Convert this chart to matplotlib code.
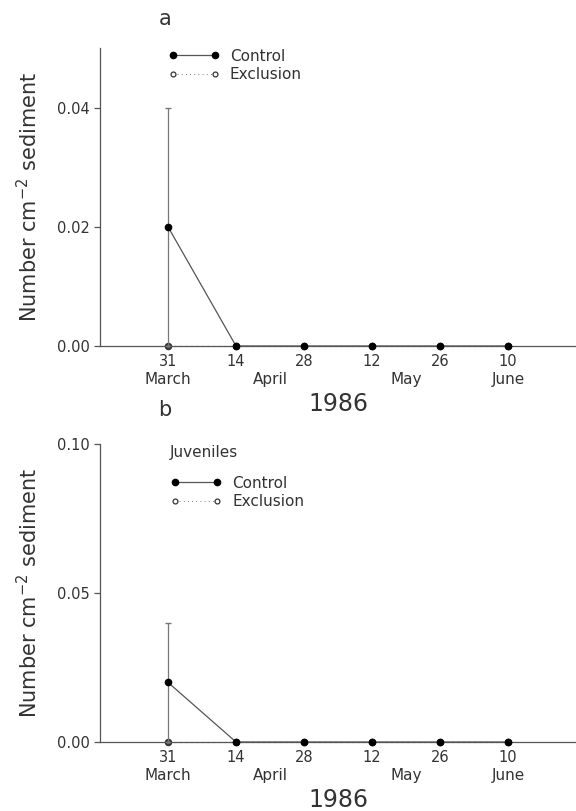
import matplotlib
matplotlib.use("Agg")
import matplotlib.pyplot as plt
from matplotlib.lines import Line2D

# ---------- DATA ----------
# sampling dates as days after 31 March 1986
days = [0, 14, 28, 42, 56, 70]
day_labels = ["31", "14", "28", "12", "26", "10"]
month_days = [0, 21, 49, 70]
month_labels = ["March", "April", "May", "June"]

# panel a (all stages)
control_a = [0.02, 0.0, 0.0, 0.0, 0.0, 0.0]
control_a_err = [0.02, 0.0, 0.0, 0.0, 0.0, 0.0]
exclusion_a = [0.0, 0.0, 0.0, 0.0, 0.0, 0.0]

# panel b (juveniles)
control_b = [0.02, 0.0, 0.0, 0.0, 0.0, 0.0]
control_b_err = [0.02, 0.0, 0.0, 0.0, 0.0, 0.0]
exclusion_b = [0.0, 0.0, 0.0, 0.0, 0.0, 0.0]

INK = "#333333"
LINE = "#555555"

fig = plt.figure(figsize=(5.76, 8.11), dpi=100)
ax_a = fig.add_axes([0.1736, 0.5734, 0.8264, 0.3674])
ax_b = fig.add_axes([0.1736, 0.0851, 0.8264, 0.3674])


def draw_panel(ax, control, control_err, exclusion, ymax, yticks, ylabels):
    ax.plot(days, exclusion, linestyle=(0, (2, 3)), color=LINE, lw=0.8,
            marker="o", ms=4, mfc="#666666", mec=INK, mew=1.4,
            clip_on=False, zorder=3)
    ax.errorbar(days, control, yerr=control_err, color=LINE, lw=0.9,
                ecolor="#777777", elinewidth=0.9, capsize=2,
                marker="o", ms=4.5, mfc="black", mec="black",
                clip_on=False, zorder=4)

    ax.set_xlim(-14, 84)
    ax.set_ylim(0, ymax)
    ax.set_yticks(yticks)
    ax.set_yticklabels(ylabels)
    ax.set_xticks(days)
    ax.set_xticklabels(day_labels)

    for side in ["top", "right"]:
        ax.spines[side].set_visible(False)
    for side in ["left", "bottom"]:
        ax.spines[side].set_color(LINE)
        ax.spines[side].set_linewidth(0.9)

    ax.tick_params(axis="x", length=0, pad=6, labelsize=10.5, colors=INK)
    ax.tick_params(axis="y", length=4, width=0.9, direction="out",
                   labelsize=10.5, colors=INK, color=LINE)

    for d, m in zip(month_days, month_labels):
        ax.annotate(m, xy=(d, 0), xycoords=ax.get_xaxis_transform(),
                    xytext=(0, -24), textcoords="offset points",
                    ha="center", va="center", fontsize=11, color=INK)

    ax.set_xlabel("1986", fontsize=17, color=INK, labelpad=16)
    ax.set_ylabel(r"Number cm$^{-2}$ sediment", fontsize=15, color=INK,
                  labelpad=11)


draw_panel(ax_a, control_a, control_a_err, exclusion_a, 0.05,
           [0.0, 0.02, 0.04], ["0.00", "0.02", "0.04"])
draw_panel(ax_b, control_b, control_b_err, exclusion_b, 0.10,
           [0.0, 0.05, 0.10], ["0.00", "0.05", "0.10"])

# ---------- LEGENDS ----------
legend_handles = [
    Line2D([], [], color=LINE, lw=0.9, marker="o", ms=4.5,
           mfc="black", mec="black"),
    Line2D([], [], color=LINE, lw=0.6, linestyle=(0, (1, 4)), marker="o",
           ms=3.5, mfc="white", mec=INK, mew=0.9),
]
legend_labels = ["Control", "Exclusion"]
legend_kw = dict(loc="upper left", frameon=False, numpoints=2,
                 handlelength=3.35, handletextpad=0.7, labelspacing=0.2,
                 fontsize=11, borderpad=0, labelcolor=INK)

ax_a.legend(legend_handles, legend_labels, bbox_to_anchor=(0.127, 1.023),
            **legend_kw)
ax_b.legend(legend_handles, legend_labels, bbox_to_anchor=(0.132, 0.919),
            **legend_kw)
fig.text(170 / 576, 1 - 452 / 811, "Juveniles", fontsize=11, color=INK,
         ha="left", va="center")

# ---------- PANEL LETTERS ----------
fig.text(165 / 576, 1 - 19 / 811, "a", fontsize=15, color=INK,
         ha="center", va="center")
fig.text(165 / 576, 1 - 410 / 811, "b", fontsize=15, color=INK,
         ha="center", va="center")

fig.savefig("out.png", dpi=100)
plt.close(fig)
